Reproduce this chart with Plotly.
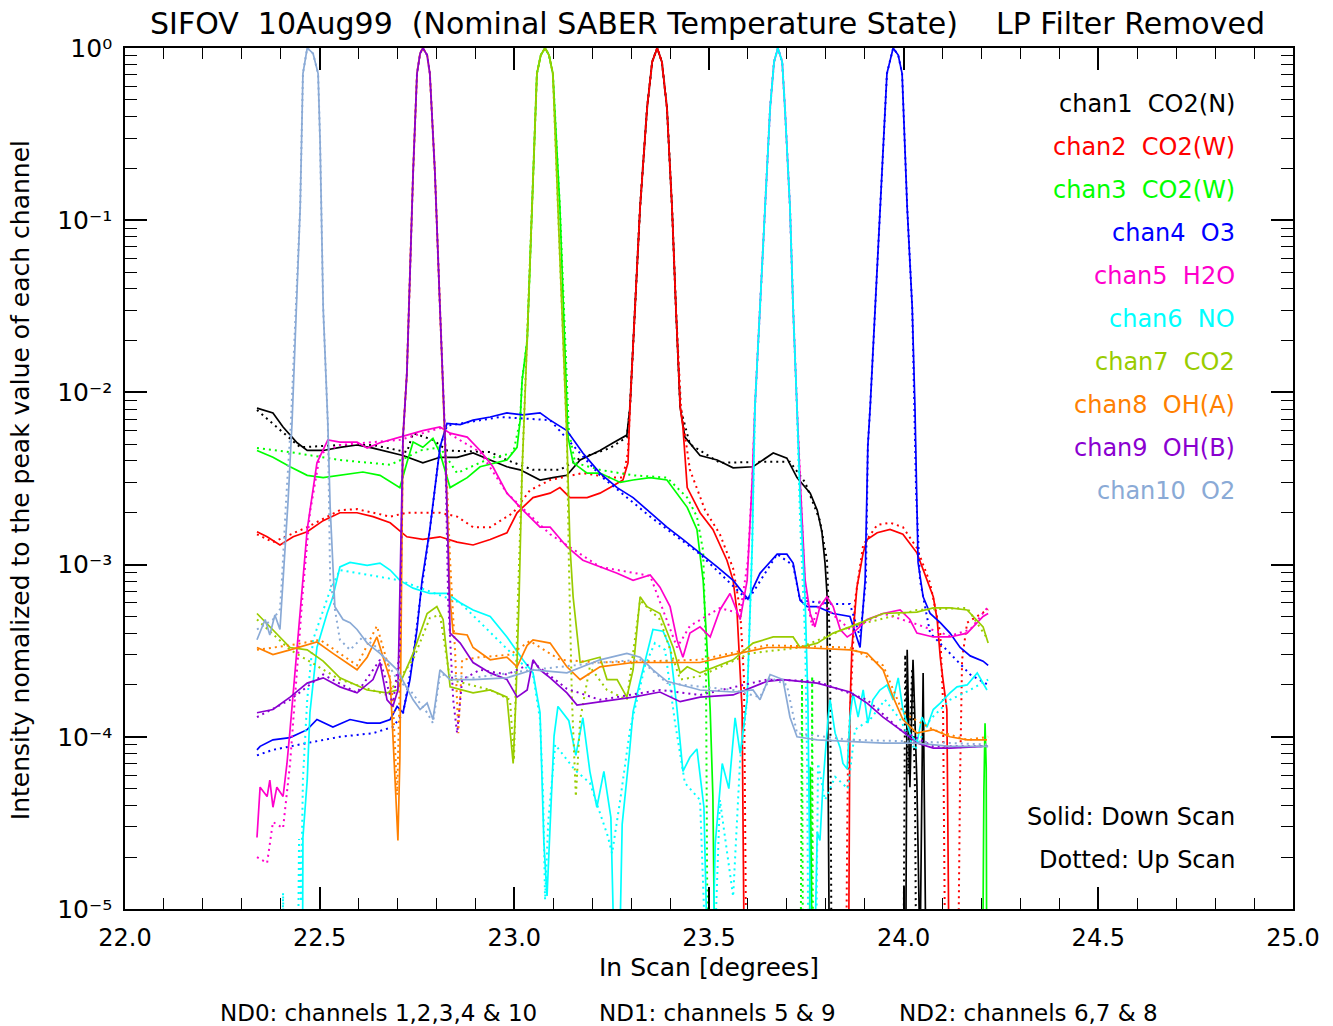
import plotly.graph_objects as go

# ---------------- data: (in-scan angle [deg], normalized intensity) ----------------
# "down" = solid (down scan), "up" = dotted (up scan). 1e-6 marks values below the plot floor.
ch1_down = [(22.339,8.1e-3),(22.380,7.6e-3),(22.406,6.3e-3),(22.442,5.1e-3),(22.468,4.6e-3),(22.509,4.6e-3),(22.552,4.8e-3),(22.596,4.95e-3),(22.637,4.75e-3),(22.681,4.5e-3),(22.714,4.3e-3),(22.765,3.9e-3),(22.809,4.2e-3),(22.853,4.2e-3),(22.894,4.45e-3),(22.938,4.05e-3),(22.981,3.7e-3),(23.015,3.55e-3),(23.066,3.1e-3),(23.099,3.2e-3),(23.135,3.3e-3),(23.169,4.05e-3),(23.220,4.6e-3),(23.254,5.1e-3),(23.289,5.65e-3),(23.297,8.2e-3),(23.310,0.031),(23.323,0.119),(23.341,0.45),(23.354,0.83),(23.367,1.0),(23.379,0.83),(23.392,0.45),(23.405,0.119),(23.415,0.031),(23.426,8.2e-3),(23.438,5.5e-3),(23.444,5.3e-3),(23.477,4.3e-3),(23.521,4.05e-3),(23.562,3.65e-3),(23.613,3.7e-3),(23.665,4.45e-3),(23.700,4.15e-3),(23.726,3.2e-3),(23.760,2.6e-3),(23.778,2.07e-3),(23.790,1.55e-3),(23.798,1.02e-3),(23.803,6.8e-4),(23.806,1.44e-4),(23.808,5.85e-5),(23.811,1e-6),(24.004,1e-6),(24.009,3.2e-4),(24.016,5.1e-5),(24.024,2.8e-4),(24.034,5.4e-5),(24.042,5e-6),(24.050,2.35e-4),(24.055,3.2e-5),(24.060,1e-6),(24.217,1e-6)]
ch1_up = [(22.339,7.9e-3),(22.450,4.8e-3),(22.552,4.95e-3),(22.637,4.95e-3),(22.724,4.5e-3),(22.740,5.8e-3),(22.791,5.3e-3),(22.827,4.6e-3),(22.938,4.5e-3),(22.981,4.05e-3),(23.048,3.55e-3),(23.117,3.55e-3),(23.169,4.15e-3),(23.246,4.75e-3),(23.289,5.5e-3),(23.297,8.2e-3),(23.310,0.031),(23.323,0.119),(23.341,0.45),(23.354,0.83),(23.367,1.0),(23.379,0.83),(23.392,0.45),(23.405,0.119),(23.415,0.031),(23.426,8.2e-3),(23.451,5.0e-3),(23.528,3.9e-3),(23.631,3.95e-3),(23.708,3.95e-3),(23.747,3.0e-3),(23.785,1.8e-3),(23.803,1.06e-3),(23.811,3.2e-4),(23.816,1e-6),(23.998,1e-6),(24.004,3.0e-4),(24.012,6e-5),(24.022,2.5e-4),(24.029,5e-5),(24.034,1e-6),(24.217,1e-6)]

ch2_down = [(22.339,1.55e-3),(22.365,1.45e-3),(22.398,1.3e-3),(22.432,1.45e-3),(22.468,1.55e-3),(22.509,1.8e-3),(22.552,2.0e-3),(22.596,2.0e-3),(22.637,1.9e-3),(22.681,1.75e-3),(22.724,1.45e-3),(22.765,1.4e-3),(22.809,1.45e-3),(22.853,1.35e-3),(22.894,1.3e-3),(22.938,1.4e-3),(22.981,1.53e-3),(23.007,2.0e-3),(23.048,2.45e-3),(23.092,2.6e-3),(23.117,2.8e-3),(23.143,2.45e-3),(23.187,2.45e-3),(23.220,2.6e-3),(23.246,2.8e-3),(23.279,3.1e-3),(23.292,3.9e-3),(23.297,8.2e-3),(23.310,0.031),(23.323,0.119),(23.341,0.45),(23.354,0.83),(23.367,1.0),(23.379,0.83),(23.392,0.45),(23.405,0.119),(23.415,0.031),(23.426,8.2e-3),(23.433,6.3e-3),(23.444,2.8e-3),(23.477,2.0e-3),(23.510,1.6e-3),(23.546,1.06e-3),(23.562,8.1e-4),(23.572,5.3e-4),(23.580,2.15e-4),(23.585,1.44e-4),(23.593,1e-6),(23.857,1e-6),(23.862,1.44e-4),(23.867,3.3e-4),(23.880,7.4e-4),(23.896,1.17e-3),(23.906,1.4e-3),(23.932,1.53e-3),(23.965,1.6e-3),(23.998,1.5e-3),(24.034,1.17e-3),(24.060,8.1e-4),(24.076,6.5e-4),(24.086,4.8e-4),(24.094,2.9e-4),(24.101,2.15e-4),(24.111,1.44e-4),(24.119,1e-6),(24.217,1e-6)]
ch2_up = [(22.339,1.5e-3),(22.380,1.35e-3),(22.468,1.65e-3),(22.552,2.07e-3),(22.596,2.1e-3),(22.681,1.9e-3),(22.724,2.0e-3),(22.809,2.0e-3),(22.853,1.9e-3),(22.894,1.65e-3),(22.938,1.65e-3),(22.997,2.0e-3),(23.040,2.7e-3),(23.092,3.1e-3),(23.176,3.4e-3),(23.246,3.2e-3),(23.279,3.2e-3),(23.292,4.5e-3),(23.297,8.2e-3),(23.310,0.031),(23.323,0.119),(23.341,0.45),(23.354,0.83),(23.367,1.0),(23.379,0.83),(23.392,0.45),(23.405,0.119),(23.415,0.031),(23.428,8.2e-3),(23.451,3.55e-3),(23.490,2.07e-3),(23.528,1.5e-3),(23.562,9.5e-4),(23.580,5.45e-4),(23.590,2.15e-4),(23.598,1e-6),(23.850,1e-6),(23.855,2.8e-5),(23.857,7.5e-5),(23.862,1.3e-4),(23.875,6.2e-4),(23.896,1.3e-3),(23.932,1.7e-3),(23.965,1.75e-3),(23.998,1.65e-3),(24.034,1.25e-3),(24.068,7.8e-4),(24.094,4e-4),(24.101,1.6e-4),(24.109,1e-6),(24.137,1e-6),(24.145,6.0e-5),(24.150,2.8e-4),(24.163,4.6e-4),(24.217,5.5e-4)]

ch3_down = [(22.339,4.6e-3),(22.380,4.2e-3),(22.424,3.7e-3),(22.468,3.3e-3),(22.509,3.2e-3),(22.552,3.3e-3),(22.611,3.45e-3),(22.655,3.3e-3),(22.706,2.8e-3),(22.724,3.9e-3),(22.740,5.15e-3),(22.765,4.8e-3),(22.791,5.4e-3),(22.809,4.45e-3),(22.835,2.8e-3),(22.879,3.2e-3),(22.912,3.7e-3),(22.981,4.05e-3),(23.007,4.8e-3),(23.015,6.9e-3),(23.020,0.0118),(23.033,0.020),(23.045,0.119),(23.058,0.71),(23.068,0.91),(23.079,1.0),(23.089,0.91),(23.099,0.71),(23.117,0.119),(23.130,0.020),(23.138,5.5e-3),(23.151,3.9e-3),(23.187,3.4e-3),(23.220,3.4e-3),(23.272,3.0e-3),(23.305,3.1e-3),(23.349,3.2e-3),(23.392,3.1e-3),(23.418,2.6e-3),(23.444,2.15e-3),(23.469,1.6e-3),(23.485,8.1e-4),(23.495,3.3e-4),(23.503,1.44e-4),(23.510,4.5e-5),(23.518,1e-6),(23.757,1e-6),(23.760,6.7e-5),(23.763,1.5e-5),(23.765,1e-6),(24.201,1e-6),(24.204,2.4e-5),(24.206,4.8e-5),(24.209,1.2e-4),(24.212,6.6e-5),(24.214,1e-6)]
ch3_up = [(22.339,4.75e-3),(22.424,4.5e-3),(22.552,4.05e-3),(22.681,3.8e-3),(22.724,4.2e-3),(22.758,4.6e-3),(22.809,4.8e-3),(22.853,3.4e-3),(22.938,4.15e-3),(22.997,4.45e-3),(23.015,6.9e-3),(23.020,0.0118),(23.033,0.020),(23.045,0.119),(23.058,0.71),(23.068,0.91),(23.079,1.0),(23.089,0.91),(23.099,0.71),(23.117,0.119),(23.130,0.020),(23.140,6.0e-3),(23.156,3.9e-3),(23.220,3.55e-3),(23.305,3.3e-3),(23.392,3.2e-3),(23.444,2.45e-3),(23.469,1.9e-3),(23.485,1.2e-3),(23.492,3.05e-4),(23.498,1e-6),(23.734,1e-6),(23.739,2.2e-4),(23.742,1e-6),(23.762,1e-6),(23.765,2.25e-4),(23.768,1e-6),(24.217,1e-6)]

ch4_down = [(22.339,8.4e-5),(22.347,8.8e-5),(22.380,9.6e-5),(22.424,9.9e-5),(22.468,1.1e-4),(22.493,1.26e-4),(22.534,1.14e-4),(22.578,1.26e-4),(22.622,1.2e-4),(22.655,1.2e-4),(22.681,1.26e-4),(22.699,1.5e-4),(22.714,1.38e-4),(22.732,2.15e-4),(22.750,4.2e-4),(22.763,8.1e-4),(22.783,1.6e-3),(22.809,4.8e-3),(22.827,6.6e-3),(22.861,6.5e-3),(22.894,6.9e-3),(22.938,7.2e-3),(22.981,7.6e-3),(23.022,7.4e-3),(23.066,7.6e-3),(23.092,6.9e-3),(23.135,6.0e-3),(23.176,4.45e-3),(23.220,3.4e-3),(23.264,2.8e-3),(23.305,2.45e-3),(23.349,2.0e-3),(23.392,1.65e-3),(23.433,1.4e-3),(23.477,1.17e-3),(23.521,9.7e-4),(23.562,8.1e-4),(23.600,6.3e-4),(23.631,8.9e-4),(23.675,1.15e-3),(23.700,1.15e-3),(23.716,1.02e-3),(23.734,6.2e-4),(23.752,5.7e-4),(23.778,5.7e-4),(23.819,5.2e-4),(23.862,5.0e-4),(23.888,3.3e-4),(23.901,8.1e-4),(23.908,4.9e-3),(23.914,8.2e-3),(23.927,0.031),(23.939,0.119),(23.957,0.71),(23.973,1.0),(23.986,0.91),(23.996,0.71),(24.009,0.119),(24.022,0.031),(24.029,8.2e-3),(24.037,1.03e-3),(24.050,6.5e-4),(24.068,5.2e-4),(24.094,4.6e-4),(24.119,4.0e-4),(24.145,3.3e-4),(24.171,2.95e-4),(24.204,2.75e-4),(24.217,2.6e-4)]
ch4_up = [(22.339,7.8e-5),(22.380,8.4e-5),(22.468,9.2e-5),(22.552,1.0e-4),(22.637,1.05e-4),(22.688,1.14e-4),(22.714,1.36e-4),(22.740,2.9e-4),(22.758,6.3e-4),(22.783,1.6e-3),(22.809,4.8e-3),(22.827,6.4e-3),(22.963,7.2e-3),(23.092,6.9e-3),(23.220,3.3e-3),(23.349,1.9e-3),(23.477,1.15e-3),(23.600,6.2e-4),(23.675,1.15e-3),(23.716,9.9e-4),(23.734,6.2e-4),(23.819,5.9e-4),(23.862,5.9e-4),(23.888,3.8e-4),(23.903,8.1e-4),(23.908,4.9e-3),(23.914,8.2e-3),(23.927,0.031),(23.939,0.119),(23.957,0.71),(23.973,1.0),(23.986,0.91),(23.996,0.71),(24.009,0.119),(24.022,0.031),(24.032,2.6e-3),(24.042,8.1e-4),(24.068,4.0e-4),(24.119,3.05e-4),(24.171,2.3e-4),(24.217,2.0e-4)]

ch5_down = [(22.339,2.6e-5),(22.347,5.1e-5),(22.365,4.5e-5),(22.372,5.6e-5),(22.380,3.9e-5),(22.390,5.1e-5),(22.406,4.5e-5),(22.416,7.0e-5),(22.424,1.1e-4),(22.442,3.3e-4),(22.457,8.1e-4),(22.468,1.6e-3),(22.493,3.9e-3),(22.521,5.3e-3),(22.552,5.15e-3),(22.596,5.15e-3),(22.622,4.75e-3),(22.655,5.1e-3),(22.706,5.5e-3),(22.765,6.0e-3),(22.809,6.3e-3),(22.835,5.8e-3),(22.879,5.5e-3),(22.912,4.6e-3),(22.945,3.7e-3),(22.981,2.6e-3),(23.022,2.07e-3),(23.066,1.65e-3),(23.092,1.65e-3),(23.135,1.27e-3),(23.176,1.06e-3),(23.220,9.7e-4),(23.264,8.9e-4),(23.305,8.1e-4),(23.349,8.7e-4),(23.374,7.4e-4),(23.400,5.7e-4),(23.418,3.65e-4),(23.433,2.9e-4),(23.451,4.0e-4),(23.477,4.35e-4),(23.503,3.8e-4),(23.528,5.45e-4),(23.554,6.8e-4),(23.580,4.8e-4),(23.598,8.1e-4),(23.611,3.1e-3),(23.618,8.2e-3),(23.631,0.031),(23.644,0.119),(23.657,0.45),(23.667,0.83),(23.677,1.0),(23.688,0.83),(23.695,0.45),(23.708,0.119),(23.716,0.031),(23.726,8.2e-3),(23.734,3.1e-3),(23.747,8.1e-4),(23.760,5.2e-4),(23.772,4.35e-4),(23.785,5.7e-4),(23.803,6.5e-4),(23.819,5.7e-4),(23.837,4.2e-4),(23.855,3.8e-4),(23.870,4.0e-4),(23.906,4.8e-4),(23.947,5.2e-4),(23.991,5.45e-4),(24.016,4.8e-4),(24.034,4.0e-4),(24.076,3.8e-4),(24.119,3.8e-4),(24.163,4.0e-4),(24.204,5.0e-4),(24.217,5.2e-4)]
ch5_up = [(22.339,2.0e-5),(22.365,1.85e-5),(22.380,3.2e-5),(22.406,2.95e-5),(22.424,7.0e-5),(22.442,2.45e-4),(22.457,7.1e-4),(22.475,2.0e-3),(22.501,4.4e-3),(22.552,4.95e-3),(22.706,5.3e-3),(22.809,6.2e-3),(22.912,4.5e-3),(22.981,2.6e-3),(23.092,1.5e-3),(23.220,9.7e-4),(23.349,8.6e-4),(23.418,3.3e-4),(23.451,4.4e-4),(23.528,5.6e-4),(23.580,5.2e-4),(23.600,1.06e-3),(23.611,3.1e-3),(23.618,8.2e-3),(23.631,0.031),(23.644,0.119),(23.657,0.45),(23.667,0.83),(23.677,1.0),(23.688,0.83),(23.695,0.45),(23.708,0.119),(23.716,0.031),(23.726,8.2e-3),(23.734,3.1e-3),(23.747,7.0e-4),(23.765,4.4e-4),(23.785,6.2e-4),(23.819,5.1e-4),(23.862,4.2e-4),(23.947,5.2e-4),(24.034,4.5e-4),(24.119,3.85e-4),(24.171,4.2e-4),(24.217,5.7e-4)]

ch6_down = [(22.339,1e-6),(22.455,1e-6),(22.457,2.6e-5),(22.468,5.6e-5),(22.475,1.38e-4),(22.493,3.3e-4),(22.519,5.2e-4),(22.534,6.5e-4),(22.552,9.7e-4),(22.578,1.03e-3),(22.622,9.9e-4),(22.655,1.02e-3),(22.681,9.3e-4),(22.706,8.1e-4),(22.740,7.3e-4),(22.783,6.8e-4),(22.827,6.8e-4),(22.861,6.0e-4),(22.894,5.45e-4),(22.938,5.0e-4),(22.981,3.8e-4),(23.022,2.8e-4),(23.048,2.35e-4),(23.066,1.38e-4),(23.076,2.4e-5),(23.084,1.19e-5),(23.094,3.9e-5),(23.102,1.01e-4),(23.112,1.5e-4),(23.140,1.24e-4),(23.158,7.8e-5),(23.176,1.29e-4),(23.194,6.3e-5),(23.212,3.9e-5),(23.230,6.3e-5),(23.248,3.4e-5),(23.264,1e-6),(23.277,3.1e-5),(23.295,7.8e-5),(23.305,1.4e-4),(23.323,2.1e-4),(23.356,4.2e-4),(23.382,4.1e-4),(23.400,3.3e-4),(23.418,1.44e-4),(23.433,6.3e-5),(23.451,7.6e-5),(23.469,8.5e-5),(23.487,3.9e-5),(23.503,1e-6),(23.516,2.4e-5),(23.534,7.0e-5),(23.551,5.0e-5),(23.567,1.29e-4),(23.580,8.0e-5),(23.598,1.64e-4),(23.611,1.3e-3),(23.618,8.2e-3),(23.631,0.031),(23.644,0.119),(23.657,0.45),(23.667,0.83),(23.677,1.0),(23.688,0.83),(23.695,0.45),(23.708,0.119),(23.716,0.031),(23.726,8.2e-3),(23.734,2.4e-3),(23.747,6.2e-4),(23.754,1.64e-4),(23.765,1e-6),(23.778,2.8e-5),(23.785,2.5e-5),(23.793,5.4e-5),(23.806,1.3e-4),(23.811,1.64e-4),(23.824,1.05e-4),(23.837,8.6e-5),(23.844,7.0e-5),(23.855,6.5e-5),(23.862,1.3e-4),(23.870,1.8e-4),(23.883,1.3e-4),(23.896,1.87e-4),(23.908,1.2e-4),(23.921,1.64e-4),(23.939,1.87e-4),(23.957,2.0e-4),(23.973,1.64e-4),(23.986,2.2e-4),(23.998,1.44e-4),(24.016,1.05e-4),(24.034,9.2e-5),(24.047,1.3e-4),(24.060,1.14e-4),(24.076,1.44e-4),(24.094,1.57e-4),(24.119,1.8e-4),(24.137,1.95e-4),(24.163,2.0e-4),(24.189,2.35e-4),(24.214,1.87e-4)]
ch6_up = [(22.339,1e-6),(22.401,1e-6),(22.406,1.24e-5),(22.411,1e-6),(22.442,1e-6),(22.447,2.55e-5),(22.452,1.1e-5),(22.457,5.7e-5),(22.468,1.64e-4),(22.483,3.66e-4),(22.501,4.8e-4),(22.527,7.1e-4),(22.552,9.3e-4),(22.706,8.1e-4),(22.861,6.0e-4),(23.048,2.3e-4),(23.066,1.26e-4),(23.074,4.5e-5),(23.079,1.13e-5),(23.087,3.2e-5),(23.105,9.0e-5),(23.156,6.4e-5),(23.194,5.4e-5),(23.240,2.65e-5),(23.251,2.1e-5),(23.272,4.3e-5),(23.297,1.1e-4),(23.336,2.6e-4),(23.361,3.5e-4),(23.387,3.2e-4),(23.413,1.2e-4),(23.438,5.4e-5),(23.477,4.3e-5),(23.503,1e-6),(23.528,4.3e-5),(23.562,1.18e-5),(23.580,7.4e-5),(23.598,1.64e-4),(23.611,1.3e-3),(23.618,8.2e-3),(23.631,0.031),(23.644,0.119),(23.657,0.45),(23.667,0.83),(23.677,1.0),(23.688,0.83),(23.695,0.45),(23.708,0.119),(23.716,0.031),(23.726,8.2e-3),(23.734,1.8e-3),(23.747,3.66e-4),(23.752,7.0e-5),(23.757,1e-6),(23.772,1e-6),(23.780,7.0e-5),(23.798,4.3e-5),(23.824,5.85e-5),(23.857,5.0e-5),(23.875,1.1e-4),(23.914,1.26e-4),(23.952,1.64e-4),(23.991,1.26e-4),(24.029,8.4e-5),(24.068,1.26e-4),(24.119,1.64e-4),(24.171,1.87e-4),(24.217,2.15e-4)]

ch7_down = [(22.339,5.2e-4),(22.380,4.2e-4),(22.424,3.3e-4),(22.468,3.2e-4),(22.509,2.75e-4),(22.552,2.2e-4),(22.622,1.87e-4),(22.673,1.8e-4),(22.699,1.87e-4),(22.740,3.05e-4),(22.776,5.2e-4),(22.801,5.7e-4),(22.817,4.8e-4),(22.835,1.95e-4),(22.894,1.8e-4),(22.938,1.87e-4),(22.981,1.7e-4),(22.997,7.0e-5),(23.004,1.64e-4),(23.012,6.2e-4),(23.020,3.55e-3),(23.033,0.020),(23.045,0.119),(23.058,0.71),(23.068,0.91),(23.079,1.0),(23.089,0.91),(23.099,0.71),(23.112,0.119),(23.125,0.020),(23.135,5.5e-3),(23.143,1.27e-3),(23.151,6.5e-4),(23.169,2.7e-4),(23.194,2.8e-4),(23.220,2.9e-4),(23.238,2.15e-4),(23.264,2.15e-4),(23.289,1.7e-4),(23.305,2.45e-4),(23.323,6.5e-4),(23.341,5.7e-4),(23.374,5.2e-4),(23.408,3.3e-4),(23.426,2.35e-4),(23.444,2.55e-4),(23.477,2.35e-4),(23.562,2.8e-4),(23.613,3.5e-4),(23.665,3.8e-4),(23.716,3.8e-4),(23.734,3.3e-4),(23.778,3.5e-4),(23.819,4.0e-4),(23.862,4.35e-4),(23.947,5.2e-4),(24.034,5.3e-4),(24.076,5.6e-4),(24.119,5.6e-4),(24.163,5.45e-4),(24.204,4.35e-4),(24.217,3.5e-4)]
ch7_up = [(22.339,4.8e-4),(22.424,3.2e-4),(22.552,2.15e-4),(22.673,1.75e-4),(22.740,2.8e-4),(22.783,4.9e-4),(22.809,5.1e-4),(22.835,2.15e-4),(22.938,1.87e-4),(22.989,1.64e-4),(22.999,7.3e-5),(23.009,6.2e-4),(23.020,3.55e-3),(23.033,0.020),(23.045,0.119),(23.058,0.71),(23.068,0.91),(23.079,1.0),(23.089,0.91),(23.099,0.71),(23.112,0.119),(23.125,0.020),(23.135,5.5e-3),(23.140,1.06e-3),(23.148,1.64e-4),(23.158,4.5e-5),(23.169,1.26e-4),(23.194,2.55e-4),(23.238,1.87e-4),(23.289,1.64e-4),(23.323,6.2e-4),(23.374,4.8e-4),(23.426,2.15e-4),(23.477,2.25e-4),(23.605,3.05e-4),(23.734,3.3e-4),(23.862,4.35e-4),(24.034,5.45e-4),(24.163,5.6e-4),(24.217,3.66e-4)]

ch8_down = [(22.339,3.3e-4),(22.380,3.0e-4),(22.424,3.2e-4),(22.493,3.55e-4),(22.534,3.05e-4),(22.596,2.45e-4),(22.622,2.9e-4),(22.647,3.8e-4),(22.663,2.9e-4),(22.681,2.15e-4),(22.694,5.4e-5),(22.701,2.5e-5),(22.706,7.4e-5),(22.714,5.5e-3),(22.724,0.0129),(22.732,0.049),(22.740,0.19),(22.750,0.71),(22.758,0.93),(22.765,1.0),(22.776,0.91),(22.783,0.71),(22.796,0.19),(22.809,0.031),(22.817,0.0103),(22.822,5.5e-3),(22.827,2.4e-3),(22.835,6.2e-4),(22.843,4.0e-4),(22.879,3.9e-4),(22.894,3.3e-4),(22.938,2.8e-4),(22.981,2.9e-4),(23.007,2.55e-4),(23.033,3.4e-4),(23.048,3.65e-4),(23.092,3.5e-4),(23.135,2.55e-4),(23.169,2.15e-4),(23.220,2.55e-4),(23.305,2.7e-4),(23.392,2.7e-4),(23.477,2.7e-4),(23.562,3.0e-4),(23.649,3.3e-4),(23.734,3.3e-4),(23.862,3.2e-4),(23.906,3.05e-4),(23.947,2.45e-4),(23.973,1.7e-4),(23.998,1.26e-4),(24.034,1.05e-4),(24.076,1.1e-4),(24.119,1.0e-4),(24.163,9.6e-5),(24.214,9.6e-5)]
ch8_up = [(22.339,3.2e-4),(22.424,3.4e-4),(22.501,3.66e-4),(22.596,2.6e-4),(22.647,4.4e-4),(22.676,2.6e-4),(22.688,1.64e-4),(22.699,4.6e-5),(22.704,1.38e-4),(22.714,5.5e-3),(22.724,0.0129),(22.732,0.049),(22.740,0.19),(22.750,0.71),(22.758,0.93),(22.765,1.0),(22.776,0.91),(22.783,0.71),(22.796,0.19),(22.809,0.031),(22.817,0.0103),(22.822,5.5e-3),(22.835,1.06e-3),(22.848,3.05e-4),(22.856,1.05e-4),(22.866,2.8e-4),(22.912,2.9e-4),(22.989,3.0e-4),(23.040,3.6e-4),(23.117,2.8e-4),(23.220,2.7e-4),(23.477,2.8e-4),(23.649,3.4e-4),(23.862,3.3e-4),(23.947,2.6e-4),(23.998,1.38e-4),(24.076,1.1e-4),(24.163,9.6e-5),(24.217,1.0e-4)]

ch9_down = [(22.339,1.38e-4),(22.380,1.44e-4),(22.424,1.7e-4),(22.468,2.05e-4),(22.509,2.2e-4),(22.552,1.95e-4),(22.596,1.8e-4),(22.637,2.15e-4),(22.655,2.7e-4),(22.673,1.64e-4),(22.688,1.5e-4),(22.701,1.87e-4),(22.714,5.5e-3),(22.724,0.0129),(22.732,0.049),(22.740,0.19),(22.750,0.71),(22.758,0.93),(22.765,1.0),(22.776,0.91),(22.783,0.71),(22.796,0.19),(22.809,0.031),(22.817,0.0103),(22.822,5.5e-3),(22.830,1.2e-3),(22.835,4.0e-4),(22.861,3.5e-4),(22.894,2.7e-4),(22.938,2.35e-4),(22.981,2.15e-4),(23.007,1.7e-4),(23.033,1.87e-4),(23.048,2.8e-4),(23.066,2.45e-4),(23.092,2.2e-4),(23.135,1.8e-4),(23.161,1.53e-4),(23.220,1.6e-4),(23.305,1.7e-4),(23.374,1.82e-4),(23.426,1.6e-4),(23.477,1.7e-4),(23.562,1.75e-4),(23.649,2.1e-4),(23.690,2.15e-4),(23.778,2.05e-4),(23.862,1.82e-4),(23.906,1.57e-4),(23.947,1.3e-4),(23.991,1.1e-4),(24.034,9.2e-5),(24.076,8.6e-5),(24.119,8.6e-5),(24.204,8.8e-5)]
ch9_up = [(22.339,1.3e-4),(22.424,1.64e-4),(22.509,2.3e-4),(22.596,1.8e-4),(22.655,2.8e-4),(22.688,1.53e-4),(22.706,3.2e-4),(22.714,5.5e-3),(22.724,0.0129),(22.732,0.049),(22.740,0.19),(22.750,0.71),(22.758,0.93),(22.765,1.0),(22.776,0.91),(22.783,0.71),(22.796,0.19),(22.809,0.031),(22.817,0.0103),(22.822,5.5e-3),(22.830,6.2e-4),(22.843,1.64e-4),(22.853,1.05e-4),(22.866,2.15e-4),(22.912,2.45e-4),(22.981,2.3e-4),(23.048,2.7e-4),(23.135,1.9e-4),(23.220,1.64e-4),(23.374,1.87e-4),(23.477,1.75e-4),(23.649,2.15e-4),(23.778,2.1e-4),(23.906,1.64e-4),(23.991,1.1e-4),(24.076,8.8e-5),(24.217,8.8e-5)]

ch10_down = [(22.339,3.66e-4),(22.360,4.8e-4),(22.372,3.9e-4),(22.385,5.1e-4),(22.398,4.2e-4),(22.406,8.1e-4),(22.419,2.37e-3),(22.429,6.6e-3),(22.450,0.119),(22.457,0.71),(22.468,1.0),(22.483,0.93),(22.496,0.71),(22.501,0.29),(22.509,0.031),(22.521,6.6e-3),(22.527,2.15e-3),(22.539,5.7e-4),(22.560,4.8e-4),(22.578,4.6e-4),(22.596,4.2e-4),(22.622,3.5e-4),(22.655,3.05e-4),(22.699,2.45e-4),(22.740,1.64e-4),(22.758,1.44e-4),(22.776,1.57e-4),(22.791,1.26e-4),(22.809,2.45e-4),(22.835,2.15e-4),(22.894,2.15e-4),(22.981,2.2e-4),(23.048,2.45e-4),(23.135,2.35e-4),(23.220,2.8e-4),(23.289,3.05e-4),(23.323,2.9e-4),(23.356,2.45e-4),(23.392,2.1e-4),(23.477,1.87e-4),(23.562,1.82e-4),(23.613,1.87e-4),(23.631,1.64e-4),(23.657,2.3e-4),(23.690,2.15e-4),(23.708,1.3e-4),(23.726,1.0e-4),(23.778,9.6e-5),(23.862,9.4e-5),(23.947,9.2e-5),(24.034,9.2e-5),(24.119,8.8e-5),(24.204,8.8e-5),(24.217,8.8e-5)]
ch10_up = [(22.339,4.2e-4),(22.380,4.8e-4),(22.398,5.5e-4),(22.403,8.1e-4),(22.414,2.4e-3),(22.426,6.6e-3),(22.450,0.119),(22.457,0.71),(22.468,1.0),(22.483,0.93),(22.496,0.71),(22.501,0.29),(22.509,0.031),(22.521,6.6e-3),(22.527,8.1e-4),(22.552,3.66e-4),(22.578,3.2e-4),(22.611,3.8e-4),(22.647,3.3e-4),(22.673,2.7e-4),(22.699,2.15e-4),(22.732,1.87e-4),(22.776,1.38e-4),(22.791,1.2e-4),(22.809,2.3e-4),(22.894,2.2e-4),(23.048,2.45e-4),(23.220,2.7e-4),(23.323,2.8e-4),(23.392,2.05e-4),(23.562,1.87e-4),(23.631,1.7e-4),(23.657,2.2e-4),(23.700,2.0e-4),(23.726,1.05e-4),(23.862,9.6e-5),(24.034,9.4e-5),(24.217,9.0e-5)]

channel_names = ["chan1  CO2(N)", "chan2  CO2(W)", "chan3  CO2(W)", "chan4  O3", "chan5  H2O",
                 "chan6  NO", "chan7  CO2", "chan8  OH(A)", "chan9  OH(B)", "chan10  O2"]
channel_colors = ["#000000", "#ff0000", "#00ff00", "#0000ff", "#ff00cc",
                  "#00ffff", "#99cc00", "#ff8000", "#8a00d0", "#8aaad6"]
down_scans = [ch1_down, ch2_down, ch3_down, ch4_down, ch5_down, ch6_down, ch7_down, ch8_down, ch9_down, ch10_down]
up_scans = [ch1_up, ch2_up, ch3_up, ch4_up, ch5_up, ch6_up, ch7_up, ch8_up, ch9_up, ch10_up]

x_major = [22.0, 22.5, 23.0, 23.5, 24.0, 24.5, 25.0]
x_labels = ["22.0", "22.5", "23.0", "23.5", "24.0", "24.5", "25.0"]
y_major = [1e-5, 1e-4, 1e-3, 1e-2, 1e-1, 1e0]
y_labels = ["10⁻⁵", "10⁻⁴", "10⁻³", "10⁻²", "10⁻¹", "10⁰"]

title_text = "SIFOV  10Aug99  (Nominal SABER Temperature State)    LP Filter Removed"
x_title = "In Scan [degrees]"
y_title = "Intensity nomalized to the peak value of each channel"
nd_notes = ["ND0: channels 1,2,3,4 & 10", "ND1: channels 5 & 9", "ND2: channels 6,7 & 8"]
scan_notes = ["Solid: Down Scan", "Dotted: Up Scan"]

# ---------------- figure ----------------
FONT = "DejaVu Sans"
fig = go.Figure()
for name, color, dn, up in zip(channel_names, channel_colors, down_scans, up_scans):
    fig.add_trace(go.Scatter(x=[p[0] for p in dn], y=[p[1] for p in dn], mode="lines",
                             line=dict(color=color, width=1.7), name=name + " down", hoverinfo="skip"))
    fig.add_trace(go.Scatter(x=[p[0] for p in up], y=[p[1] for p in up], mode="lines",
                             line=dict(color=color, width=2.0, dash="2px,4px"), name=name + " up",
                             hoverinfo="skip"))

x_minor = [round(22 + 0.1 * i, 1) for i in range(1, 30) if i % 5 != 0]
y_minor = [m * 10.0 ** e for e in range(-5, 0) for m in range(2, 10)]

axis_common = dict(showline=True, linecolor="black", linewidth=1.6, mirror="allticks",
                   ticks="inside", tickcolor="black", tickwidth=1.6, showgrid=False, zeroline=False)
fig.update_xaxes(range=[22, 25], tickmode="array", tickvals=x_major, ticktext=x_labels, ticklen=22,
                 tickfont=dict(family=FONT, size=24, color="black"), ticklabelstandoff=6,
                 minor=dict(tickmode="array", tickvals=x_minor, ticks="inside", ticklen=11,
                            tickcolor="black", tickwidth=1.4, showgrid=False),
                 **axis_common)
fig.update_yaxes(type="log", range=[-5, 0], tickmode="array", tickvals=y_major, ticktext=y_labels, ticklen=22,
                 tickfont=dict(family=FONT, size=25, color="black"), ticklabelstandoff=6,
                 minor=dict(tickmode="array", tickvals=y_minor, ticks="inside", ticklen=12,
                            tickcolor="black", tickwidth=1.4, showgrid=False),
                 **axis_common)

annotations = [
    dict(text=title_text, x=0.499, y=1.028, xref="paper", yref="paper", xanchor="center", yanchor="middle",
         showarrow=False, font=dict(family=FONT, size=30, color="black")),
    dict(text=x_title, x=0.5, y=-0.0685, xref="paper", yref="paper", xanchor="center", yanchor="middle",
         showarrow=False, font=dict(family=FONT, size=25, color="black")),
    dict(text=y_title, x=-0.0899, y=0.498, xref="paper", yref="paper", xanchor="center", yanchor="middle",
         textangle=-90, showarrow=False, font=dict(family=FONT, size=25, color="black")),
]
for txt, xp in zip(nd_notes, [0.0796, 0.404, 0.661]):
    annotations.append(dict(text=txt, x=xp, y=-0.1208, xref="paper", yref="paper", xanchor="left",
                            yanchor="middle", showarrow=False, font=dict(family=FONT, size=23, color="black")))
for i, (name, color) in enumerate(zip(channel_names, channel_colors)):
    annotations.append(dict(text=name, x=0.952, y=0.935 - i * 0.04994, xref="paper", yref="paper",
                            xanchor="right", yanchor="middle", showarrow=False,
                            font=dict(family=FONT, size=24, color=color)))
for txt, yp in zip(scan_notes, [0.1069, 0.0569]):
    annotations.append(dict(text=txt, x=0.952, y=yp, xref="paper", yref="paper", xanchor="right",
                            yanchor="middle", showarrow=False, font=dict(family=FONT, size=24, color="black")))

fig.update_layout(width=1333, height=1026, margin=dict(l=125, r=40, t=48, b=117),
                  paper_bgcolor="white", plot_bgcolor="white", showlegend=False,
                  font=dict(family=FONT, color="black"), annotations=annotations)

fig.write_html("out.html")
